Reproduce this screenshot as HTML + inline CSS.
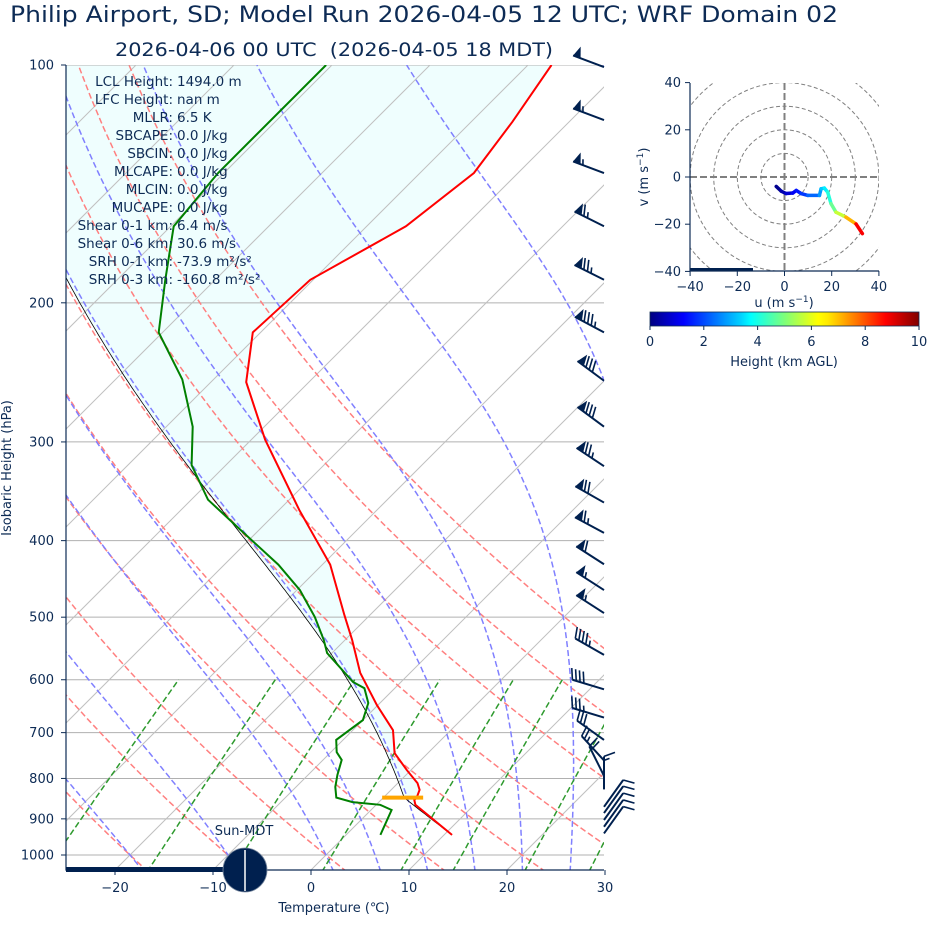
<!DOCTYPE html>
<html><head><meta charset="utf-8">
<style>
html,body{margin:0;padding:0;background:#fff;}
svg{display:block;font-family:"DejaVu Sans","Liberation Sans",sans-serif;}
</style></head>
<body>
<svg id="root" xmlns="http://www.w3.org/2000/svg" width="928" height="936" viewBox="0 0 928 936">
<defs>
<clipPath id="plotclip"><rect x="66" y="65" width="538" height="805"/></clipPath>
<clipPath id="hodoclip"><rect x="690" y="83" width="189" height="188"/></clipPath>
<linearGradient id="jetgrad" x1="0" x2="1" y1="0" y2="0">
<stop offset="0" stop-color="#000080"/><stop offset="0.11" stop-color="#0000f1"/><stop offset="0.125" stop-color="#0000ff"/>
<stop offset="0.34" stop-color="#00d4ff"/><stop offset="0.375" stop-color="#0ff"/><stop offset="0.5" stop-color="#7dff7a"/>
<stop offset="0.625" stop-color="#ff0"/><stop offset="0.66" stop-color="#ffea00"/><stop offset="0.875" stop-color="#f00"/><stop offset="1" stop-color="#800000"/>
</linearGradient>
</defs>
<text x="10" y="22" font-size="22.5" fill="#0d2b55" textLength="828" lengthAdjust="spacingAndGlyphs">Philip Airport, SD; Model Run 2026-04-05 12 UTC; WRF Domain 02</text>
<text x="334" y="56" font-size="19" fill="#0d2b55" text-anchor="middle" textLength="438" lengthAdjust="spacingAndGlyphs">2026-04-06 00 UTC &#160;(2026-04-05 18 MDT)</text>
<g id="plot"></g>
<g id="hodo"></g>
</svg>
<script>
// ---- Sounding data ----
const tempP = [943,864,852,846,827,811,781,743,695,646,588,534,497,429,366,298,252,218,187,160,137,118,100];
const tempT = [10.8,4.0,3.4,3.4,2.9,2.0,-0.4,-3.4,-5.9,-10.1,-15.1,-19.3,-22.6,-29.2,-37.9,-48.6,-56.4,-60.8,-60.3,-56.0,-54.5,-55.8,-57.6];
const dewP = [943,877,864,857,846,820,792,758,741,715,675,642,615,604,555,534,500,462,429,393,355,321,287,250,218,187,160,137,100];
const dewT = [3.5,2.1,0.4,-2.7,-4.8,-6.0,-7.0,-8.1,-9.4,-10.7,-10.0,-11.2,-13.1,-14.9,-20.5,-22.2,-25.4,-29.7,-34.5,-40.9,-48.3,-53.5,-57.3,-63.2,-70.4,-75.1,-79.7,-80.6,-80.6];
const lclP = 846;
// ---- Wind barbs (knots) ----
const barbP = [100.6,117.4,137,160,187,218,251,287,322,358,391,428.5,462,494,558,617,670,715,759,794,826,869,885,903,921,939];
const barbU = [46.8,51.5,51.5,58.1,67.1,75,64.3,64.3,62.4,60.8,57.3,50.5,46.3,46.3,39.1,38.3,33.5,24.4,16.9,8.9,0,-5.8,-5.8,-5.8,-5.8,-5.8];
const barbV = [-17.5,-19.3,-19.3,-29.1,-33.5,-40,-47.6,-47.6,-41.6,-34.7,-30.7,-32.5,-29.8,-29.8,-22.2,-11.6,-10.2,-17.4,-18.4,-17.9,-15,-8.1,-8.1,-8.1,-8.1,-8.1];
// ---- Hodograph (m/s, km) ----
const hodoU = [-3.5,-1.4,0.7,3.5,5,7,9.9,14.8,15.5,16.9,18.3,19.7,21.8,26,30.3,33];
const hodoV = [-4,-6,-7,-6.8,-5.7,-7,-7.8,-7.8,-5,-4.7,-6.4,-11.3,-14.9,-17,-19.9,-24];
const hodoH = [0,0.3,0.6,1,1.3,1.6,2,2.5,3,3.4,3.8,4.4,5.2,6.2,7.8,9.8];
const pTicks = [100,200,300,400,500,600,700,800,900,1000];
const tTicks = [-20,-10,0,10,20,30];
const dryT0 = [-40,-30,-20,-10,0,10,20,30,40,50,60];
const moistT0 = [-50,-40,-30,-20,-10,0,5,10,15,20,25,30,35,40,45];
const mixW = [0.0004,0.001,0.002,0.004,0.007,0.01,0.016,0.024,0.032];
const statLabels = ["LCL Height:","LFC Height:","MLLR:","SBCAPE:","SBCIN:","MLCAPE:","MLCIN:","MUCAPE:","Shear 0-1 km:","Shear 0-6 km:","SRH 0-1 km:","SRH 0-3 km:"];
const statValues = ["1494.0 m","nan m","6.5 K","0.0 J/kg","0.0 J/kg","0.0 J/kg","0.0 J/kg","0.0 J/kg","6.4 m/s","30.6 m/s","-73.9 m\u00b2/s\u00b2","-160.8 m\u00b2/s\u00b2"];

const NS="http://www.w3.org/2000/svg";
const NAVY="#0d2b55";
function mk(tag,attrs,parent){const e=document.createElementNS(NS,tag);for(const k in attrs)e.setAttribute(k,attrs[k]);parent.appendChild(e);return e;}
const yP=p=>65+790*Math.log10(p/100);
const xT=(t,p)=>311+9.8*t+(870-yP(p));
const plot=document.getElementById('plot');
const hodo=document.getElementById('hodo');

const Rd=287.04,Cp=1005.7,Lv=2.501e6,eps=0.622;
const es=tc=>6.112*Math.exp(17.67*tc/(tc+243.5));
const rs=(tk,p)=>{const e=es(tk-273.15);return eps*e/(p-e);};
function dTdp(tk,p){const r=rs(tk,p);return (Rd*tk+Lv*r)/(p*(Cp+Lv*Lv*r*eps/(Rd*tk*tk)));}
function moist(tk,p0,p1){const pts=[[p0,tk]];const n=Math.max(2,Math.ceil(Math.abs(p1-p0)/4));const dp=(p1-p0)/n;let t=tk,p=p0;
 for(let i=0;i<n;i++){const k1=dTdp(t,p);const k2=dTdp(t+k1*dp/2,p+dp/2);t+=k2*dp;p+=dp;pts.push([p,t]);}return pts;}
function pathFrom(pts){return pts.map((q,i)=>(i?'L':'M')+xT(q[1]-273.15,q[0]).toFixed(1)+' '+yP(q[0]).toFixed(1)).join(' ');}

const clipG=mk('g',{'clip-path':'url(#plotclip)'},plot);



const sfcT=tempT[0]+273.15,sfcP=tempP[0];
const parcel=[];
for(let p=sfcP;p>lclP;p-=5)parcel.push([p,sfcT*Math.pow(p/sfcP,0.286)]);
const tl=sfcT*Math.pow(lclP/sfcP,0.286);
moist(tl,lclP,100).forEach(q=>parcel.push(q));

{let d=tempP.map((p,i)=>(i?'L':'M')+xT(tempT[i],p).toFixed(1)+' '+yP(p).toFixed(1)).join(' ');
 for(let i=parcel.length-1;i>=0;i--)d+=' L'+xT(parcel[i][1]-273.15,parcel[i][0]).toFixed(1)+' '+yP(parcel[i][0]).toFixed(1);
 const f=mk('path',{d:d+' Z',fill:'#effefe',stroke:'none'},clipG);
 
 }

pTicks.forEach(p=>{const l=mk('line',{x1:66,x2:604,y1:yP(p),y2:yP(p),stroke:'#b0b0b0','stroke-width':1},clipG);
 
 });
for(let t=-120;t<=40;t+=10){const l=mk('line',{x1:311+9.8*t,y1:870,x2:311+9.8*t+805,y2:65,stroke:'#c0c0c0','stroke-width':1},clipG);
 
 }
dryT0.forEach(th=>{const pts=[];for(let p=1050;p>=100;p-=10)pts.push([p,(th+273.15)*Math.pow(p/1000,0.286)]);
 const l=mk('path',{d:pathFrom(pts),fill:'none',stroke:'#ff8080','stroke-width':1.5,'stroke-dasharray':'6,3'},clipG);
 
 });
moistT0.forEach(t0=>{const up=moist(t0+273.15,1000,100);const dn=moist(t0+273.15,1000,1050).reverse();
 const l=mk('path',{d:pathFrom(dn.concat(up.slice(1))),fill:'none',stroke:'#8080ff','stroke-width':1.5,'stroke-dasharray':'6,3'},clipG);
 
 });
mixW.forEach(w=>{const pts=[];
 for(let p=1050;p>=600;p-=10){const e=w*p/(eps+w);const l=Math.log(e/6.112);const td=243.5*l/(17.67-l);pts.push([p,td+273.15]);}
 const l=mk('path',{d:pathFrom(pts),fill:'none',stroke:'#2e9a2e','stroke-width':1.5,'stroke-dasharray':'6,3'},clipG);
 
 });

{const l=mk('path',{d:pathFrom(parcel),fill:'none',stroke:'#000','stroke-width':0.8},clipG);
 
 }
{const d=dewP.map((p,i)=>(i?'L':'M')+xT(dewT[i],p).toFixed(1)+' '+yP(p).toFixed(1)).join(' ');
 const l=mk('path',{d:d,fill:'none',stroke:'#008000','stroke-width':2},clipG);
 
 }
{const d=tempP.map((p,i)=>(i?'L':'M')+xT(tempT[i],p).toFixed(1)+' '+yP(p).toFixed(1)).join(' ');
 const l=mk('path',{d:d,fill:'none',stroke:'#ff0000','stroke-width':2},clipG);
 
 }
{const x=xT(tl-273.15,lclP),y=yP(lclP);
 const l=mk('line',{x1:x-22,x2:x+19,y1:y,y2:y,stroke:'#ffa500','stroke-width':4},clipG);
 
 }

statLabels.forEach((s,i)=>{const y=86+i*18;
 const a=mk('text',{x:173,y:y,'font-size':13.5,fill:NAVY,'text-anchor':'end'},plot);a.textContent=s;
 
 
 const b=mk('text',{x:177,y:y,'font-size':13.5,fill:NAVY},plot);b.textContent=statValues[i];
 
 });

{const a=mk('path',{d:'M66 65 V870 H604',fill:'none',stroke:NAVY,'stroke-width':1.2},plot);
 
 }
pTicks.forEach(p=>{const y=yP(p);mk('line',{x1:61,x2:66,y1:y,y2:y,stroke:NAVY},plot);
 const t=mk('text',{x:54,y:y+4.5,'font-size':13,fill:NAVY,'text-anchor':'end'},plot);t.textContent=p;
 
 });
tTicks.forEach(v=>{const x=311+9.8*v;mk('line',{x1:x,x2:x,y1:870,y2:875,stroke:NAVY},plot);
 const t=mk('text',{x:x,y:892,'font-size':13,fill:NAVY,'text-anchor':'middle'},plot);t.textContent=(v<0?'\u2212'+(-v):v);
 
 });
{const t=mk('text',{x:334,y:912,'font-size':13,fill:NAVY,'text-anchor':'middle'},plot);t.textContent='Temperature (\u2103)';
 
 
 const t2=mk('text',{x:11,y:468,'font-size':13,fill:NAVY,'text-anchor':'middle',transform:'rotate(-90 11 468)'},plot);t2.textContent='Isobaric Height (hPa)';
 
 }

{const b=mk('rect',{x:66,y:867,width:165,height:5,fill:'#00204f'},plot);
 
 
 const c=mk('circle',{cx:245,cy:870,r:22,fill:'#00204f',stroke:'#7a8aa0','stroke-width':0.8},plot);
 
 
 mk('line',{x1:245,x2:245,y1:850,y2:891,stroke:'#fff','stroke-width':1.5},plot);
 const t=mk('text',{x:244,y:835,'font-size':13,fill:NAVY,'text-anchor':'middle'},plot);t.textContent='Sun-MDT';
 
 }

barbP.forEach((p,i)=>{const u=barbU[i],v=barbV[i];const s=Math.hypot(u,v);const L=33;
 const bx=604,by=yP(p);const dx=-u/s,dy=v/s;const px=-dy,py=dx;
 const g=mk('g',{stroke:'#00204f','stroke-width':2,fill:'#00204f','stroke-linecap':'butt'},plot);
 
 
 const tx=bx+dx*L,ty=by+dy*L;mk('line',{x1:bx,y1:by,x2:tx,y2:ty},g);
 let rem=Math.round(s/5)*5;let pos=0;const h=11,w=8,sp=4;
 while(rem>=50){const ax=tx-dx*pos,ay=ty-dy*pos;
  mk('polygon',{points:`${ax},${ay} ${ax-dx*w},${ay-dy*w} ${ax-dx*w/2+px*h},${ay-dy*w/2+py*h}`,stroke:'none'},g);pos+=w+1.5;rem-=50;}
 if(pos>0)pos+=1;
 while(rem>=10){const ax=tx-dx*pos,ay=ty-dy*pos;mk('line',{x1:ax,y1:ay,x2:ax+px*h+dx*w/2,y2:ay+py*h+dy*w/2,'stroke-width':1.6},g);pos+=sp;rem-=10;}
 if(rem>=5){if(pos===0)pos=sp;const ax=tx-dx*pos,ay=ty-dy*pos;mk('line',{x1:ax,y1:ay,x2:ax+px*h/2+dx*w/4,y2:ay+py*h/2+dy*w/4,'stroke-width':1.6},g);}
});

const hx=u=>784.5+u*2.36,hy=v=>177-v*2.36;
const hc=mk('g',{'clip-path':'url(#hodoclip)'},hodo);
[10,20,30,40,50].forEach(r=>{const c=mk('circle',{cx:hx(0),cy:hy(0),r:r*2.36,fill:'none',stroke:'#808080','stroke-width':1,'stroke-dasharray':'4,2.5'},hc);
 
 });
mk('line',{x1:690,x2:879,y1:hy(0),y2:hy(0),stroke:'#808080','stroke-width':2,'stroke-dasharray':'7,3'},hc);
mk('line',{x1:hx(0),x2:hx(0),y1:83,y2:271,stroke:'#808080','stroke-width':2,'stroke-dasharray':'7,3'},hc);
function jet(x){const c=v=>Math.round(255*Math.max(0,Math.min(1,v)));return `rgb(${c(1.5-Math.abs(4*x-3))},${c(1.5-Math.abs(4*x-2))},${c(1.5-Math.abs(4*x-1))})`;}
for(let i=0;i<hodoU.length-1;i++){const l=mk('line',{x1:hx(hodoU[i]),y1:hy(hodoV[i]),x2:hx(hodoU[i+1]),y2:hy(hodoV[i+1]),stroke:jet((hodoH[i]+hodoH[i+1])/20),'stroke-width':3.5,'stroke-linecap':'round'},hc);
 
 }
{const b=mk('rect',{x:690,y:268,width:63,height:3,fill:'#00204f'},hodo);
 
 
 const a=mk('path',{d:'M690 83 V271 H879',fill:'none',stroke:NAVY,'stroke-width':1.2},hodo);
 
 }
[-40,-20,0,20,40].forEach(v=>{mk('line',{x1:hx(v),x2:hx(v),y1:271,y2:276,stroke:NAVY},hodo);
 const t=mk('text',{x:hx(v),y:291,'font-size':13,fill:NAVY,'text-anchor':'middle'},hodo);t.textContent=(v<0?'\u2212'+(-v):v);
 
 
 mk('line',{x1:685,x2:690,y1:hy(v),y2:hy(v),stroke:NAVY},hodo);
 const t2=mk('text',{x:681,y:hy(v)+4.5,'font-size':13,fill:NAVY,'text-anchor':'end'},hodo);t2.textContent=(v<0?'\u2212'+(-v):v);
 
 });
{const t=mk('text',{x:784,y:307,'font-size':13,fill:NAVY,'text-anchor':'middle'},hodo);t.innerHTML='u (m s<tspan dy="-5" font-size="9">\u22121</tspan><tspan dy="5">)</tspan>';
 
 
 const t2=mk('text',{x:648,y:177,'font-size':13,fill:NAVY,'text-anchor':'middle',transform:'rotate(-90 648 177)'},hodo);t2.innerHTML='v (m s<tspan dy="-5" font-size="9">\u22121</tspan><tspan dy="5">)</tspan>';
 
 }
{const r=mk('rect',{x:650,y:312,width:269,height:14,fill:'url(#jetgrad)',stroke:NAVY,'stroke-width':0.8},hodo);
 
 
 [0,2,4,6,8,10].forEach(v=>{const x=650+v*26.9;mk('line',{x1:x,x2:x,y1:326,y2:330,stroke:NAVY},hodo);
  const t=mk('text',{x:x,y:346,'font-size':13,fill:NAVY,'text-anchor':'middle'},hodo);t.textContent=v;
  
  });
 const t=mk('text',{x:784,y:366,'font-size':13,fill:NAVY,'text-anchor':'middle'},hodo);t.textContent='Height (km AGL)';
 
 }
</script>
</body></html>
